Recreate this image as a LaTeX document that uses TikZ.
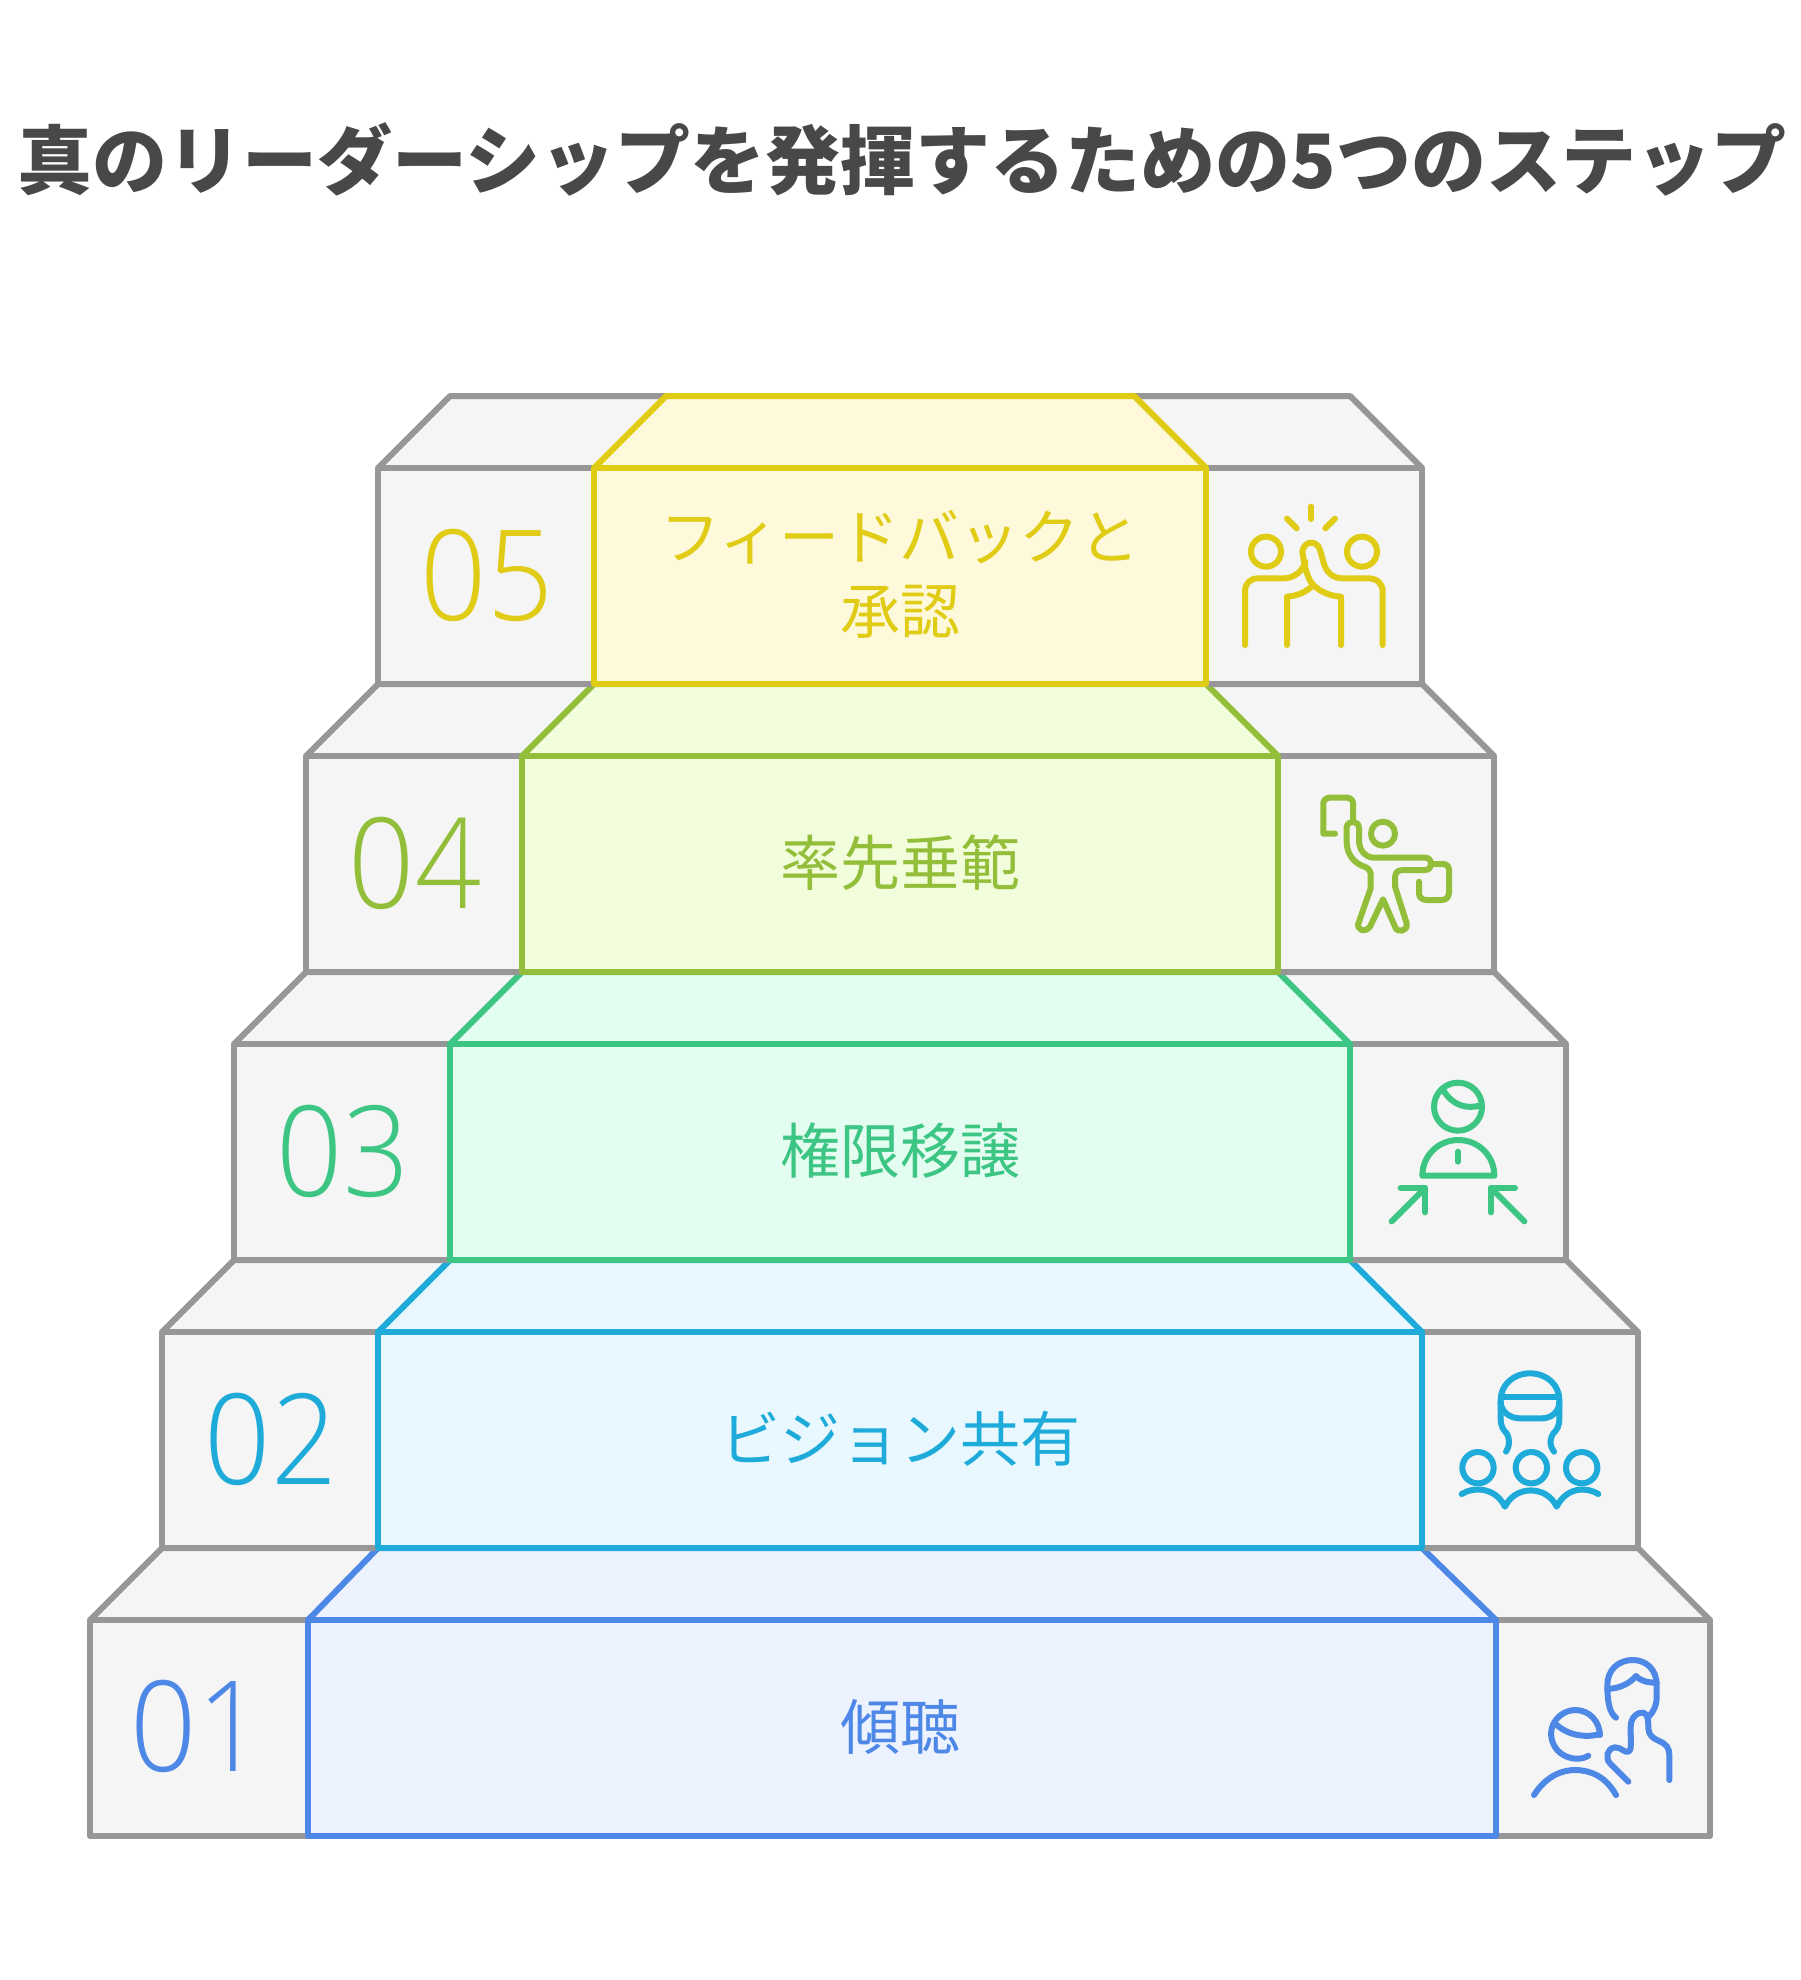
\documentclass[tikz,border=0pt]{standalone}
\usepackage{fontspec}
\usepackage{xcolor}
\usetikzlibrary{positioning}
\newfontfamily\cjkfont{Noto Sans CJK JP}
\newfontfamily\numfont[FakeStretch=0.92]{Open Sans Light}
\definecolor{colorgrey}{HTML}{979797}
\definecolor{colorbox}{HTML}{F5F5F5}
\definecolor{colortitle}{HTML}{484848}
\definecolor{colorblue}{HTML}{4E88E7}
\definecolor{colorcyan}{HTML}{1EABDA}
\definecolor{colorgreen}{HTML}{3CC583}
\definecolor{colorolive}{HTML}{93BE39}
\definecolor{coloryellow}{HTML}{E0CB15}
\definecolor{fillblue}{HTML}{EDF3FE}
\definecolor{fillcyan}{HTML}{E8F8FE}
\definecolor{fillgreen}{HTML}{E3FDF0}
\definecolor{fillolive}{HTML}{F2FDDB}
\definecolor{fillyellow}{HTML}{FEF9DA}
\tikzset{
  stepgrey/.style={draw=colorgrey, fill=colorbox, line width=3pt, line join=round},
  stepblue/.style={draw=colorblue, fill=fillblue, line width=3pt, line join=round},
  stepcyan/.style={draw=colorcyan, fill=fillcyan, line width=3pt, line join=round},
  stepgreen/.style={draw=colorgreen, fill=fillgreen, line width=3pt, line join=round},
  stepolive/.style={draw=colorolive, fill=fillolive, line width=3pt, line join=round},
  stepyellow/.style={draw=coloryellow, fill=fillyellow, line width=3pt, line join=round},
  num/.style={inner sep=0pt, font=\numfont\fontsize{63}{63}\selectfont},
  lbl/.style={inner sep=0pt, align=center, font=\cjkfont\fontsize{30}{37}\selectfont},
  icon/.style={line width=3pt, line cap=round, line join=round, x=0.16667pt, y=-0.16667pt}
}
\begin{document}
\begin{tikzpicture}[x=0.5pt, y=-0.5pt]
\useasboundingbox[fill=white] (0,0) rectangle (1800,1980);
\node[inner sep=0pt, text=colortitle, font=\cjkfont\bfseries\fontsize{37.5}{37.5}\selectfont](title) at (902,159) {真のリーダーシップを発揮するための5つのステップ};
\draw[stepgrey] (90,1620) -- (162,1548) -- (1638,1548) -- (1710,1620) -- cycle;
\draw[stepgrey] (90,1620) rectangle (1710,1836);
\draw[stepblue] (308,1620) -- (378,1548) -- (1422,1548) -- (1496,1620) -- cycle;
\draw[stepblue] (308,1620) rectangle (1496,1836);
\draw[stepgrey] (162,1332) -- (234,1260) -- (1566,1260) -- (1638,1332) -- cycle;
\draw[stepgrey] (162,1332) rectangle (1638,1548);
\draw[stepcyan] (378,1332) -- (450,1260) -- (1350,1260) -- (1422,1332) -- cycle;
\draw[stepcyan] (378,1332) rectangle (1422,1548);
\draw[stepgrey] (234,1044) -- (306,972) -- (1494,972) -- (1566,1044) -- cycle;
\draw[stepgrey] (234,1044) rectangle (1566,1260);
\draw[stepgreen] (450,1044) -- (522,972) -- (1278,972) -- (1350,1044) -- cycle;
\draw[stepgreen] (450,1044) rectangle (1350,1260);
\draw[stepgrey] (306,756) -- (378,684) -- (1422,684) -- (1494,756) -- cycle;
\draw[stepgrey] (306,756) rectangle (1494,972);
\draw[stepolive] (522,756) -- (594,684) -- (1206,684) -- (1278,756) -- cycle;
\draw[stepolive] (522,756) rectangle (1278,972);
\draw[stepgrey] (378,468) -- (450,396) -- (1350,396) -- (1422,468) -- cycle;
\draw[stepgrey] (378,468) rectangle (1422,684);
\draw[stepyellow] (594,468) -- (666,396) -- (1134,396) -- (1206,468) -- cycle;
\draw[stepyellow] (594,468) rectangle (1206,684);
\node[num, text=colorblue](n1) at (197,1726) {01};
\node[num, text=colorcyan](n2) at (271,1439) {02};
\node[num, text=colorgreen](n3) at (343,1151) {03};
\node[num, text=colorolive](n4) at (415,863) {04};
\node[num, text=coloryellow](n5) at (487,575) {05};
\node[lbl, text=colorblue](s1) at (900,1727) {傾聴};
\node[lbl, text=colorcyan](s2) at (900,1439) {ビジョン共有};
\node[lbl, text=colorgreen](s3) at (900,1151) {権限移譲};
\node[lbl, text=colorolive](s4) at (900,863) {率先垂範};
\node[lbl, text=coloryellow](s5) at (900,574) {フィードバックと\\承認};
\begin{scope}[shift={(1200,480)}, icon, draw=coloryellow]
\draw (198,215) circle[radius=45];
\draw (486,215) circle[radius=45];
\draw (333,80) -- (333,117);
\draw (261,116) -- (290,145);
\draw (405,116) -- (376,145);
\draw (135,495) -- (135,335) .. controls (135,310) and (150,295) .. (175,295) -- (250,295) .. controls (285,295) and (310,270) .. (316,245);
\draw (548,495) -- (548,335) .. controls (548,310) and (530,295) .. (505,295) -- (430,295) .. controls (395,295) and (378,275) .. (370,245) -- (360,210) .. controls (352,180) and (312,180) .. (307,215) .. controls (312,250) and (320,295) .. (340,315) .. controls (360,335) and (390,348) .. (423,350) -- (423,495);
\draw (261,495) -- (261,350) .. controls (295,347) and (320,335) .. (340,315);
\end{scope}
\begin{scope}[shift={(1280,770)}, icon, draw=colorolive]
\draw (309,191) circle[radius=36];
\draw (165,191) -- (130,191) -- (130,100) .. controls (130,90) and (140,83) .. (150,83) -- (200,83) .. controls (210,83) and (219,90) .. (219,100) -- (219,155);
\draw (455,282) -- (490,282) .. controls (500,282) and (507,290) .. (507,300) -- (507,365) .. controls (507,380) and (500,390) .. (485,390) -- (440,390) .. controls (425,390) and (417,380) .. (417,370) -- (417,335);
\draw (200,170) .. controls (205,150) and (237,150) .. (237,175) -- (237,215) .. controls (240,250) and (265,263) .. (280,263) -- (435,263) .. controls (460,263) and (460,300) .. (435,300) -- (370,300) .. controls (350,300) and (345,310) .. (345,325) -- (345,350) -- (380,460) .. controls (385,485) and (350,490) .. (345,470) -- (309,388) -- (270,470) .. controls (255,490) and (225,480) .. (237,455) -- (272,355) -- (272,310) .. controls (270,295) and (255,290) .. (245,287) .. controls (210,270) and (200,240) .. (200,215) -- cycle;
\end{scope}
\begin{scope}[shift={(1360,1060)}, icon, draw=colorgreen]
\draw (294,140) circle[radius=72];
\draw (250,90) .. controls (275,135) and (320,150) .. (365,135);
\draw (187,347) .. controls (187,287) and (235,240) .. (295,240) .. controls (355,240) and (403,287) .. (403,347) -- cycle;
\draw (294,275) -- (294,305);
\draw (95,484) -- (195,384);
\draw (122,384) -- (195,384) -- (195,457);
\draw (493,484) -- (393,384);
\draw (465,384) -- (393,384) -- (393,457);
\end{scope}
\begin{scope}[shift={(1430,1350)}, icon, draw=colorcyan]
\draw (228,305) .. controls (240,285) and (240,270) .. (230,250) .. controls (220,240) and (212,230) .. (212,205) -- (212,150) .. controls (212,105) and (250,70) .. (300,70) .. controls (350,70) and (388,105) .. (388,150) -- (388,205) .. controls (388,230) and (380,240) .. (370,250) .. controls (358,270) and (358,285) .. (372,305);
\draw (222,140) -- (380,140);
\draw (212,155) .. controls (212,185) and (240,205) .. (270,205) -- (335,205) .. controls (365,205) and (388,185) .. (388,155);
\draw (144,353) circle[radius=47];
\draw (304,353) circle[radius=47];
\draw (455,353) circle[radius=47];
\draw (95,432) .. controls (130,410) and (195,410) .. (225,470) .. controls (255,405) and (350,405) .. (380,470) .. controls (410,410) and (470,410) .. (505,432);
\end{scope}
\begin{scope}[shift={(1510,1640)}, icon, draw=colorblue]
\draw (318,233) .. controls (300,220) and (292,190) .. (292,135) .. controls (292,90) and (325,60) .. (368,60) .. controls (410,60) and (440,90) .. (440,135) -- (440,175) .. controls (440,195) and (430,215) .. (418,228);
\draw (292,147) .. controls (330,145) and (360,130) .. (378,108) .. controls (395,125) and (415,128) .. (440,128);
\draw (355,425) -- (300,370) .. controls (285,355) and (290,325) .. (315,322) .. controls (335,322) and (345,340) .. (355,335) .. controls (365,330) and (362,320) .. (362,260) .. controls (362,230) and (385,215) .. (400,218) .. controls (412,222) and (415,235) .. (415,265) .. controls (415,285) and (430,295) .. (445,302) .. controls (470,312) and (478,325) .. (478,345) -- (478,420);
\draw (235,347) .. controls (200,370) and (125,350) .. (123,280) .. controls (125,235) and (165,210) .. (195,210) .. controls (240,210) and (268,245) .. (270,285);
\draw (135,250) .. controls (170,285) and (225,295) .. (270,282);
\draw (72,465) .. controls (110,405) and (160,390) .. (195,390) .. controls (235,390) and (285,405) .. (318,465);
\end{scope}
\end{tikzpicture}
\end{document}
